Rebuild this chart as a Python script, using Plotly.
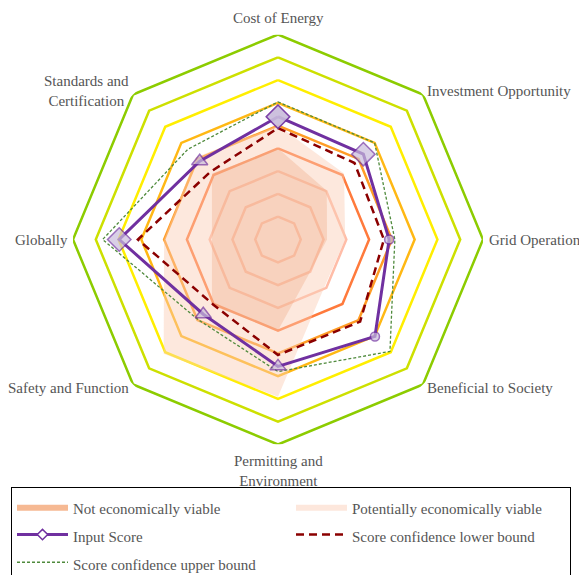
import math
import plotly.graph_objects as go

# ---------------- data ----------------
categories = [
    "Cost of Energy",
    "Investment Opportunity",
    "Grid Operations",
    "Beneficial to Society",
    "Permitting and<br>Environment",
    "Safety and Function",
    "Globally",
    "Standards and<br>Certification",
]
ring_levels = [1, 2, 3, 4, 5, 6, 7, 8, 9]

not_viable = [4.0, 3.03, 2.15, 2.0, 4.0, 4.1, 2.9, 4.1]
potentially_viable = [5.0, 4.1, 2.95, 2.9, 6.9, 7.1, 5.0, 5.1]
input_score = [5.39, 5.3, 4.88, 6.02, 5.57, 4.64, 6.97, 4.86]
lower_bound = [4.89, 4.75, 4.65, 5.1, 5.07, 4.03, 6.15, 4.2]
upper_bound = [6.04, 6.0, 5.13, 6.95, 5.8, 4.97, 7.7, 5.6]

input_symbols = ["diamond", "diamond", "circle", "circle",
                 "triangle-up", "triangle-up", "diamond", "triangle-up"]

# ---------------- styles ----------------
ring_colors = ["#ffbda8", "#ffbda8", "#ffbda8", "#ff7a3c", "#ff9d26",
               "#ffb814", "#ffee00", "#cde000", "#8ccc00"]
symbol_sizes = {"diamond": 18, "circle": 9, "triangle-up": 14}
FONT = "Liberation Serif"
TXT = "#555555"
PURPLE = "#7030a0"

# the page body adds an 8px offset; geometry below is in figure pixels
W, H, OFF = 587, 590, 8
CX, CY, R = 278 - OFF, 239.5 - OFF, 205
GAP_VERTICAL, GAP_OTHER = 7, 4.5

n = len(categories)
angles = [i * 360 / n for i in range(n)]
theta_closed = angles + [angles[0]]


def closed(vals):
    return list(vals) + [vals[0]]


def leg(txt):
    return f'<span style="font-size:15px">{txt}</span>'


fig = go.Figure()

for lvl, col in zip(ring_levels, ring_colors):
    fig.add_trace(go.Scatterpolar(
        r=[lvl] * (n + 1), theta=theta_closed, mode="lines",
        line=dict(color=col, width=2.5), showlegend=False,
        hoverinfo="skip", cliponaxis=False))

# viability regions (legend keys are separate entries below)
fig.add_trace(go.Scatterpolar(
    r=closed(potentially_viable), theta=theta_closed, mode="lines",
    fill="toself", fillcolor="rgba(250,205,180,0.45)",
    line=dict(width=0, color="rgba(0,0,0,0)"),
    name="Potentially economically viable", showlegend=False))
fig.add_trace(go.Scatterpolar(
    r=closed(not_viable), theta=theta_closed, mode="lines",
    fill="toself", fillcolor="rgba(238,165,125,0.32)",
    line=dict(width=0, color="rgba(0,0,0,0)"),
    name="Not economically viable", showlegend=False))

fig.add_trace(go.Scatterpolar(
    r=closed(upper_bound), theta=theta_closed, mode="lines",
    line=dict(color="#4f8a3c", width=1.3, dash="3px,2px"),
    name=leg("Score confidence upper bound"), legendrank=5, cliponaxis=False))
fig.add_trace(go.Scatterpolar(
    r=closed(lower_bound), theta=theta_closed, mode="lines",
    line=dict(color="#8b0000", width=2.5, dash="8px,5px"),
    name=leg("Score confidence lower bound"), legendrank=4, cliponaxis=False))

syms = closed(input_symbols)
fig.add_trace(go.Scatterpolar(
    r=closed(input_score), theta=theta_closed, mode="lines+markers",
    line=dict(color=PURPLE, width=3),
    marker=dict(symbol=syms, size=[symbol_sizes[s] for s in syms],
                color="#c9bcdc", line=dict(color=PURPLE, width=1.5)),
    name="Input Score", showlegend=False, cliponaxis=False))

# legend keys
fig.add_trace(go.Scatterpolar(
    r=[None], theta=[None], mode="lines", fill="toself",
    fillcolor="#f6b993", line=dict(width=0, color="rgba(0,0,0,0)"),
    name=leg("Not economically viable"), legendrank=1))
fig.add_trace(go.Scatterpolar(
    r=[None], theta=[None], mode="lines", fill="toself",
    fillcolor="#fde7dc", line=dict(width=0, color="rgba(0,0,0,0)"),
    name=leg("Potentially economically viable"), legendrank=2))
fig.add_trace(go.Scatterpolar(
    r=[None], theta=[None], mode="lines+markers",
    line=dict(color=PURPLE, width=3),
    marker=dict(symbol="diamond", size=8, color="white",
                line=dict(color=PURPLE, width=1.5)),
    name=leg("Input Score"), legendrank=3))

# category labels placed just outside the outer ring
for ang, label in zip(angles, categories):
    a = math.radians(90 - ang)
    ux, uy = math.cos(a), math.sin(a)
    gap = GAP_VERTICAL if abs(uy) > 0.9 else GAP_OTHER
    px = CX + (R + gap) * ux
    py = CY - (R + gap) * uy
    xa = "left" if ux > 0.3 else ("right" if ux < -0.3 else "center")
    ya = "bottom" if uy > 0.9 else ("top" if uy < -0.9 else "middle")
    fig.add_annotation(
        x=px / W, y=1 - py / H, xref="paper", yref="paper",
        text=label, showarrow=False, xanchor=xa, yanchor=ya, align="center",
        font=dict(family=FONT, size=15, color=TXT), borderpad=0)

fig.update_layout(
    width=W, height=H,
    margin=dict(l=0, r=0, t=0, b=0),
    paper_bgcolor="white",
    font=dict(family=FONT, size=15, color=TXT),
    showlegend=True,
    polar=dict(
        domain=dict(x=[(CX - R) / W, (CX + R) / W],
                    y=[1 - (CY + R) / H, 1 - (CY - R) / H]),
        bgcolor="rgba(0,0,0,0)",
        gridshape="linear",
        radialaxis=dict(range=[0, 9], visible=False, showgrid=False),
        angularaxis=dict(
            tickmode="array", tickvals=angles, ticktext=categories,
            rotation=90, direction="clockwise", showgrid=False,
            showline=False, ticks="", showticklabels=False),
    ),
    legend=dict(
        orientation="h", x=3 / W, xanchor="left", y=1 - (487 - OFF) / H,
        yanchor="top",
        bordercolor="black", borderwidth=1, bgcolor="white",
        itemwidth=51, entrywidth=213, entrywidthmode="pixels",
        font=dict(family=FONT, size=19, color=TXT),
        traceorder="normal"),
)

fig.write_html("out.html")
